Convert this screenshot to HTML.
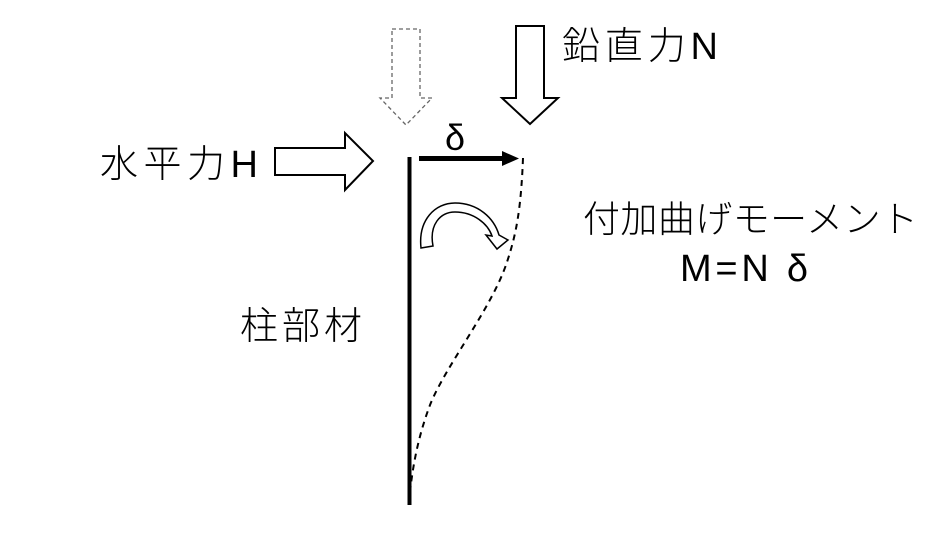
<!DOCTYPE html>
<html><head><meta charset="utf-8"><style>
html,body{margin:0;padding:0;background:#fff;}
svg{display:block}
text{font-family:"Liberation Sans","Noto Sans CJK JP",sans-serif;fill:#000;font-weight:300}
</style></head><body>
<svg width="944" height="551" viewBox="0 0 944 551" xmlns="http://www.w3.org/2000/svg">
<polygon points="392,29 420,29 420,98 432,98 406,125 380,98 392,98" fill="none" stroke="#666" stroke-width="1.3" stroke-dasharray="4,3"/>
<polygon points="516,26 544,26 544,98 558,98 530,124 502,98 516,98" fill="#fff" stroke="#000" stroke-width="2"/>
<polygon points="275,148 345,148 345,133 373,161 345,190 345,175 275,175" fill="#fff" stroke="#000" stroke-width="2"/>
<line x1="409.5" y1="157" x2="409.5" y2="505" stroke="#000" stroke-width="4"/>
<line x1="419" y1="158.5" x2="505" y2="158.5" stroke="#000" stroke-width="5"/>
<polygon points="502,151 519,158.5 502,166" fill="#000"/>
<path d="M523,158 C521,210 516,235 507,262 C492,308 446,365 430,405 C418,437 413,465 410,492" fill="none" stroke="#000" stroke-width="2" stroke-dasharray="6,5"/>
<path d="M421,248 C418,220 435,203 455,203 C478,203 494,218 499,235 L508,240 L497,249 L486,235 L492,236 C488,224 474,212 455,212 C440,212 429,225 433,246 Z" fill="#fff" stroke="#000" stroke-width="1.5"/>
<text x="455" y="150" font-size="36" text-anchor="middle">δ</text>
<text x="100" y="177" font-size="38" textLength="158" lengthAdjust="spacing">水平力H</text>
<text x="562" y="59" font-size="38" textLength="156" lengthAdjust="spacing">鉛直力N</text>
<text x="583" y="232" font-size="37" textLength="335" lengthAdjust="spacing">付加曲げモーメント</text>
<text x="680" y="281" font-size="38" textLength="128" lengthAdjust="spacing">M=N δ</text>
<text x="240" y="339" font-size="38" textLength="122" lengthAdjust="spacing">柱部材</text>
</svg>
</body></html>
